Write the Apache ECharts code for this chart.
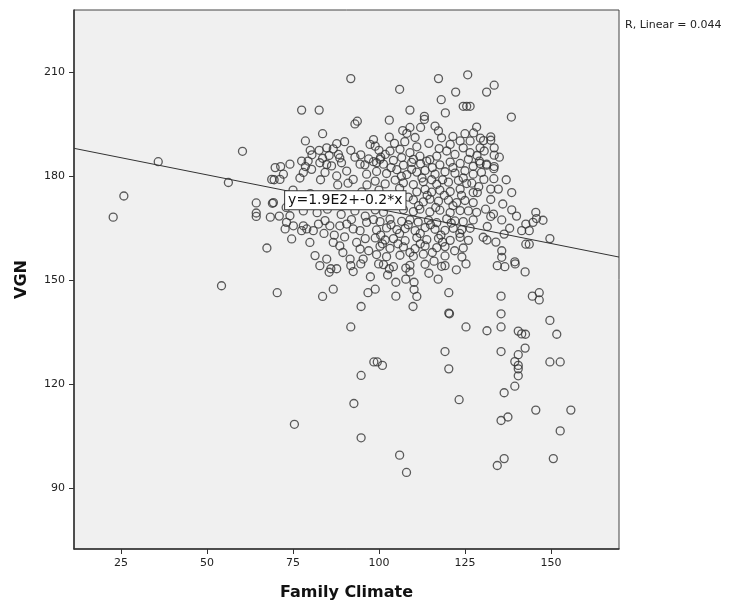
<!DOCTYPE html>
<html>
<head>
<meta charset="utf-8">
<script src="https://cdn.jsdelivr.net/npm/echarts@6/dist/echarts.min.js"></script>
<style>
html,body{margin:0;padding:0;background:#fff;}
#chart{width:734px;height:606px;}
</style>
</head>
<body>
<div id="chart"></div>
<script>
// ---- Data ----
const xTicks = [25, 50, 75, 100, 125, 150];
const yTicks = [90, 120, 150, 180, 210];
const xTitle = 'Family Climate';
const yTitle = 'VGN';
const fitIntercept = 190.3;
const fitSlope = -0.198;
const fitText = 'y=1.9E2+-0.2*x';
const fitTextAt = [72.7, 173.1];
const r2Text = 'R, Linear = 0.044';

// [Family Climate, VGN]
const leftPoints = [
  [22.7,168.2],[25.8,174.3],[35.8,184.2],[54.2,148.4],[56.2,178.2],[60.3,187.2],
  [64.3,172.3],[64.3,169.4],[64.3,168.4],[67.4,159.3],[68.4,168.2],[69.0,172.2],
  [69.5,179.0],[70.4,146.4],[75.4,108.4]
];
const lowerMidPoints = [
  [83.6,145.3],[86.7,147.4],[85.5,152.3],[86.0,153.3],[87.7,153.3],[91.8,154.2],
  [94.7,154.7],[99.9,154.7],[103.0,153.3],[107.8,153.5],[109.0,152.4],[104.9,149.4],
  [107.8,150.3],[110.2,149.4],[110.2,147.3],[111.0,145.3],[109.9,142.4],[104.9,145.4],
  [96.8,146.4],[98.9,147.4],[94.8,142.4],[91.8,136.5],[98.5,126.4],[99.5,126.4],
  [101.0,125.4],[94.8,122.5],[92.7,114.4],[94.8,104.5],[106.0,99.5],[108.0,94.5]
];
const lowerRightPoints = [
  [119.2,154.2],[125.3,154.7],[134.4,154.2],[136.6,153.9],[139.6,154.7],[142.5,152.4],
  [117.2,150.3],[120.3,146.4],[120.3,140.5],[120.5,140.3],[125.3,136.5],[131.4,135.4],
  [135.5,145.4],[135.5,140.3],[135.5,136.5],[144.6,145.4],[146.6,146.4],[146.6,144.3],
  [149.7,138.4],[151.7,134.4],[140.5,135.3],[141.5,134.5],[142.6,134.4],[142.5,130.4],
  [140.5,128.5],[139.5,126.5],[140.5,125.4],[140.5,124.4],[140.5,122.4],[139.5,119.4],
  [135.5,129.4],[119.2,129.4],[120.3,124.4],[149.7,126.4],[152.7,126.4],[136.4,117.5],
  [123.3,115.5],[145.6,112.5],[155.8,112.5],[135.5,109.5],[137.5,110.5],[152.7,106.5],
  [134.4,96.5],[136.4,98.5],[150.7,98.5]
];
const rightClusterPoints = [
  [127.4,182.9],[129.4,183.7],[131.3,183.5],[133.4,182.2],[127.4,180.6],[129.8,181.1],
  [130.5,179.1],[133.4,179.3],[127.4,175.3],[128.6,175.3],[132.5,176.3],[134.7,176.3],
  [138.6,175.3],[132.5,173.3],[127.4,172.4],[138.6,170.3],[128.4,169.6],[127.4,167.4],
  [132.5,168.4],[133.3,169.1],[135.7,167.4],[145.6,169.6],[145.8,167.8],[144.8,166.7],
  [142.7,166.2],[147.7,167.3],[141.5,164.3],[143.7,164.3],[149.7,162.0],[136.4,163.3],
  [130.3,162.4],[131.4,161.6],[142.7,160.4],[143.7,160.4],[135.7,158.5],[135.7,156.6],
  [139.5,155.3]
];
const leftClusterPoints = [
  [69.8,182.5],[72.2,180.6],[74.1,183.5],[77.5,184.4],[78.0,181.1],[80.4,182.0],
  [82.8,183.9],[84.3,181.1],[86.2,183.0],[87.7,180.1],[89.1,183.9],[90.6,181.5],
  [92.5,179.1],[94.5,183.5],[96.4,180.6],[68.8,179.1],[71.2,179.1],[69.3,172.4],
  [74.1,168.6],[73.1,166.7],[75.1,165.7],[78.0,165.7],[79.0,164.8],[77.5,164.3],
  [80.9,164.3],[82.4,166.2],[84.3,167.2],[85.7,165.7],[88.6,165.7],[90.6,166.2],
  [92.5,164.8],[94.5,164.3],[96.4,166.7],[72.7,164.8],[74.6,161.9],[79.9,160.9],
  [81.4,157.1],[86.7,160.9],[88.6,159.9],[93.5,160.9],[94.5,159.0],[95.4,156.1],
  [91.6,156.1],[84.8,156.1],[82.8,154.2],
  [75.0,176.0],[80.0,175.0],[86.0,174.0],[90.0,172.5],[95.0,175.5],[73.0,171.0],
  [97.5,172.0],[85.0,170.5],[89.0,169.0],[93.0,170.0],[96.0,168.5],[82.0,169.5],
  [78.0,170.0],[71.0,168.5],
  [88.0,177.5],[91.0,178.0],[93.0,185.5],[96.5,177.5],[83.0,179.0],[77.0,179.5],
  [80.0,187.5],[90.0,190.0],[85.5,186.0],
  [87.0,163.0],[90.0,162.5],[96.0,162.0],[84.0,163.5],[92.0,167.5],[89.5,158.0],
  [97.0,158.5],[92.5,152.5],[97.5,151.0]
];
const centerClusterPoints = [
  [98.4,184.2],[101.3,183.5],[104.2,184.6],[107.1,183.2],[109.5,184.0],[112.1,183.6],
  [114.8,184.8],[117.7,183.3],[120.7,184.1],[123.6,183.7],
  [99.3,181.4],[102.2,180.8],[105.2,181.9],[108.1,180.5],[111.0,181.2],[113.4,181.7],
  [116.3,180.6],[119.2,181.3],[122.1,180.9],[125.0,181.6],
  [98.9,178.6],[101.8,177.8],[104.7,178.9],[107.1,178.1],[110.0,177.6],[112.9,178.4],
  [115.3,179.0],[116.8,177.7],[120.2,178.3],[123.1,178.8],[125.5,177.9],
  [111.0,175.5],[113.4,176.2],[115.3,175.4],[117.7,176.0],[120.7,175.6],[123.6,176.3],
  [110.0,173.2],[112.9,172.6],[114.8,173.4],[117.3,172.8],[120.2,173.1],[122.6,172.4],[125.0,173.0],
  [98.9,170.3],[101.3,169.6],[107.1,170.4],[110.0,169.8],[111.9,170.5],[114.8,169.7],
  [117.7,170.2],[120.7,169.5],[123.6,170.1],
  [98.4,167.5],[100.3,166.9],[103.2,167.6],[106.6,167.0],[109.0,167.4],[111.4,166.8],
  [114.4,167.3],[116.8,166.6],[119.7,167.7],[122.1,167.1],[124.5,166.9],
  [99.3,164.5],[102.2,165.1],[105.2,164.6],[107.6,164.9],[110.5,164.3],[113.4,165.2],
  [116.3,164.7],[119.2,164.4],[121.6,165.0],[124.1,164.6],
  [98.9,162.2],[101.8,161.6],[104.2,162.0],[107.6,161.4],[111.0,162.3],[113.9,161.7],
  [117.3,162.1],[120.7,161.5],[123.6,162.4],
  [100.3,159.8],[103.2,159.2],[107.1,159.6],[110.5,159.1],[113.4,159.9],[116.8,159.4],
  [119.2,159.7],[124.5,159.3],
  [99.3,157.4],[102.2,156.8],[106.1,157.2],[110.0,156.9],[112.9,157.5],[119.2,157.0],[124.1,156.7],
  [101.3,154.5],[104.2,153.9],[109.0,154.3],[113.4,154.6],[118.2,154.0],
  [100.5,185.5],[103.5,182.5],[106.5,180.0],[109.5,182.0],[112.5,179.5],[115.5,182.5],
  [118.5,179.0],[121.5,182.5],[124.5,179.5],[127.0,178.0],
  [100.0,176.0],[103.0,174.5],[106.0,176.5],[108.5,174.0],[111.5,171.5],[114.0,174.5],
  [116.5,171.0],[119.0,174.5],[121.5,171.5],[124.0,174.5],[126.0,170.0],
  [100.5,163.0],[103.5,166.0],[106.0,163.5],[108.5,166.0],[112.0,163.5],[115.0,166.0],
  [118.0,163.0],[121.0,166.5],[123.5,163.5],[126.5,165.0],
  [101.0,160.5],[105.5,160.5],[109.0,158.0],[112.0,160.5],[115.5,158.0],[118.5,161.0],
  [122.0,158.5],[126.0,161.5],
  [102.5,151.5],[114.5,152.0],[116.0,155.5],[122.5,153.0],
  [129.0,177.0],[131.0,170.5],[136.0,172.0],[137.0,179.0],[135.0,185.5],[128.5,186.0],
  [131.5,165.5],[134.0,161.0],[138.0,165.0],[140.0,168.5]
];
const upperPoints = [
  [91.8,208.2],[77.5,199.1],[82.6,199.1],[93.7,195.9],[93.0,195.1],[83.6,192.3],
  [78.6,190.2],[87.7,189.4],[84.8,188.2],[86.7,187.9],[82.6,187.5],[80.5,186.2],
  [88.6,185.3],[79.4,184.4],[83.6,185.2],[91.8,187.5],[94.7,186.2],[95.9,183.3],
  [71.4,182.8],[78.6,182.8],[84.8,183.4],[88.2,186.3],[97.4,189.2],
  [117.3,208.2],[125.8,209.3],[106.0,205.1],[122.3,204.3],[118.1,202.1],[109.0,199.1],
  [119.3,198.3],[124.5,200.2],[125.5,200.2],[113.2,197.3],[113.2,196.4],[103.0,196.2],
  [112.1,194.1],[109.0,194.1],[106.9,193.2],[108.1,192.4],[110.5,191.2],[103.0,191.3],
  [116.3,194.5],[117.3,193.1],[118.2,191.1],[120.7,189.2],[125.0,192.3],[123.6,190.2],
  [98.4,190.6],[98.9,188.7],[100.3,184.9],[103.2,187.3],[106.1,187.8],[106.6,185.4],
  [110.0,184.9],[111.9,185.8],[113.9,184.4],[116.8,185.8],[119.7,187.3],[122.1,186.3],
  [124.5,188.2],[126.0,184.9],[99.3,183.9],[101.8,186.3],[109.0,186.8],
  [133.5,206.3],[131.3,204.3],[138.5,197.1],[128.4,194.2],[132.5,191.4],[132.5,190.4],
  [130.4,190.3],[129.4,188.2],[130.6,187.3],[133.5,188.2],[133.5,186.1],[126.5,190.2],
  [129.2,184.4],[131.3,183.2],[133.5,182.8],[126.5,200.2],[126.5,186.8],
  [97.0,185.0],[100.0,187.5],[104.5,189.5],[107.5,190.0],[111.0,188.5],[114.5,189.5],
  [117.5,188.0],[121.5,191.5],[127.5,192.5],[129.5,191.0]
];

// ---- Chart ----
const allPoints = [].concat(leftPoints, lowerMidPoints, lowerRightPoints,
  rightClusterPoints, leftClusterPoints, centerClusterPoints, upperPoints);
const xMin = 11.3, xMax = 169.8, yMin = 72.4, yMax = 228.0;
const fitLine = [[xMin, fitIntercept + fitSlope * xMin], [xMax, fitIntercept + fitSlope * xMax]];

const FONT = 'DejaVu Sans';
const chart = echarts.init(document.getElementById('chart'));
chart.setOption({
  animation: false,
  backgroundColor: '#ffffff',
  title: {
    text: r2Text, left: 620, top: 15,
    textStyle: {fontFamily: FONT, fontSize: 11, fontWeight: 'normal', color: '#222'}
  },
  grid: {
    left: 74, right: 115, top: 10, bottom: 55,
    show: true, backgroundColor: '#f0f0f0', borderColor: '#444', borderWidth: 1
  },
  xAxis: {
    type: 'value', min: xMin, max: xMax,
    name: xTitle, nameLocation: 'middle', nameGap: 36,
    nameTextStyle: {fontFamily: FONT, fontSize: 16, fontWeight: 'bold', color: '#111'},
    axisLine: {show: true, lineStyle: {color: '#333', width: 1.5}},
    axisTick: {show: true, length: 5, lineStyle: {color: '#333'}, customValues: xTicks},
    axisLabel: {fontFamily: FONT, fontSize: 11, color: '#222', margin: 9, customValues: xTicks},
    splitLine: {show: false}
  },
  yAxis: {
    type: 'value', min: yMin, max: yMax,
    name: yTitle, nameLocation: 'middle', nameGap: 44,
    nameTextStyle: {fontFamily: FONT, fontSize: 16, fontWeight: 'bold', color: '#111'},
    axisLine: {show: true, lineStyle: {color: '#333', width: 1.5}},
    axisTick: {show: true, length: 5, lineStyle: {color: '#333'}, customValues: yTicks},
    axisLabel: {fontFamily: FONT, fontSize: 11, color: '#222', margin: 9, customValues: yTicks},
    splitLine: {show: false}
  },
  series: [
    {
      type: 'scatter', data: allPoints, symbol: 'circle', symbolSize: 8,
      itemStyle: {color: 'rgba(0,0,0,0)', borderColor: '#333', borderWidth: 1.3},
      silent: true, z: 2
    },
    {
      type: 'line', data: fitLine, showSymbol: false, silent: true, z: 3,
      lineStyle: {color: '#333', width: 1},
      markPoint: {
        symbol: 'rect', symbolSize: 0, silent: true,
        data: [{coord: fitTextAt, value: 0}],
        label: {
          show: true, position: 'right', distance: 0, formatter: fitText,
          fontFamily: FONT, fontSize: 14, color: '#111',
          backgroundColor: '#ffffff', borderColor: '#333', borderWidth: 1, padding: [2, 3]
        }
      }
    }
  ]
});
</script>
</body>
</html>
